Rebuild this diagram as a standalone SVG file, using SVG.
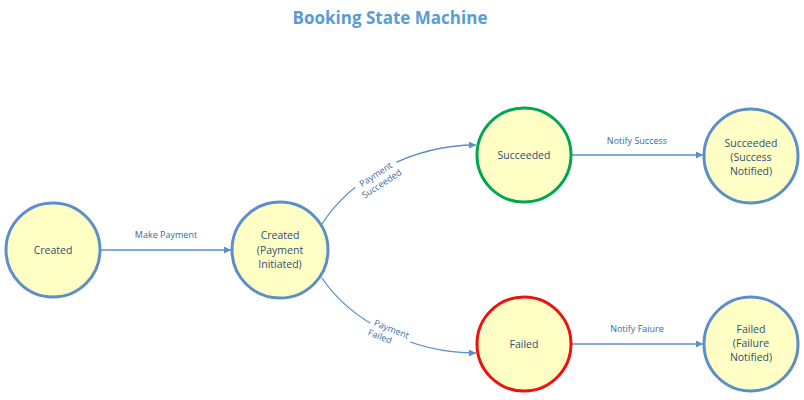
<svg xmlns="http://www.w3.org/2000/svg" width="804" height="400" viewBox="0 0 804 400">
<defs>
<style>
.st{fill:#FFFFC5;stroke:#5B8FC9;stroke-width:3}
.ok{stroke:#00A651}
.bad{stroke:#EE1111}
.nt{font-family:"Open Sans","Liberation Sans",sans-serif;font-size:10.5px;fill:#2E4E73;text-anchor:middle}
.el{font-family:"Open Sans","Liberation Sans",sans-serif;font-size:9px;fill:#3A6A9E;text-anchor:middle}
.ln{fill:none;stroke:#5B8FC9;stroke-width:1.3}
.title{font-family:"Open Sans","Liberation Sans",sans-serif;font-size:17px;font-weight:bold;fill:#5B9BD5;text-anchor:middle}
</style>
<marker id="ah" viewBox="0 0 10 10" refX="10" refY="5" markerWidth="7" markerHeight="7" markerUnits="userSpaceOnUse" orient="auto"><path d="M0,0 L10,5 L0,10 z" fill="#5B8FC9"/></marker>
</defs>
<rect width="804" height="400" fill="#FFFFFF"/>
<text class="title" x="390" y="24">Booking State Machine</text>
<g id="connectors">
<line class="ln" x1="101" y1="250" x2="231" y2="250" marker-end="url(#ah)"/>
<text class="el" x="166" y="238">Make Payment</text>
<path class="ln" d="M322,224 C350,180 410,145 476,145" marker-end="url(#ah)"/>
<g transform="translate(378,178) rotate(-33)">
<rect x="-24" y="-10" width="48" height="22" fill="#FFFFFF"/>
<text class="el" x="0" y="-1">Payment</text>
<text class="el" x="0" y="10">Succeeded</text>
</g>
<path class="ln" d="M322,278 C350,320 410,353 476,353" marker-end="url(#ah)"/>
<g transform="translate(390,333) rotate(22)">
<rect x="-22" y="-10" width="44" height="22" fill="#FFFFFF"/>
<text class="el" x="0" y="-1">Payment</text>
<text class="el" x="-8" y="10">Failed</text>
</g>
<line class="ln" x1="572" y1="155" x2="703" y2="155" marker-end="url(#ah)"/>
<text class="el" x="637" y="144">Notify Success</text>
<line class="ln" x1="572" y1="344" x2="703" y2="344" marker-end="url(#ah)"/>
<text class="el" x="637" y="332">Notify Faiure</text>
</g>
<g id="created">
<circle class="st" cx="53" cy="250" r="47"/>
<text class="nt" x="53" y="254">Created</text>
</g>
<g id="payment-initiated">
<circle class="st" cx="280" cy="250" r="48"/>
<text class="nt" x="280" y="239">Created</text>
<text class="nt" x="280" y="254">(Payment</text>
<text class="nt" x="280" y="268">Initiated)</text>
</g>
<g id="succeeded">
<circle class="st ok" cx="524" cy="155" r="47"/>
<text class="nt" x="524" y="159">Succeeded</text>
</g>
<g id="failed">
<circle class="st bad" cx="524" cy="344" r="47"/>
<text class="nt" x="524" y="348">Failed</text>
</g>
<g id="success-notified">
<circle class="st" cx="751" cy="156" r="47"/>
<text class="nt" x="751" y="147">Succeeded</text>
<text class="nt" x="751" y="161">(Success</text>
<text class="nt" x="751" y="175">Notified)</text>
</g>
<g id="failure-notified">
<circle class="st" cx="751" cy="344" r="47"/>
<text class="nt" x="751" y="333">Failed</text>
<text class="nt" x="751" y="347">(Failure</text>
<text class="nt" x="751" y="361">Notified)</text>
</g>
</svg>
